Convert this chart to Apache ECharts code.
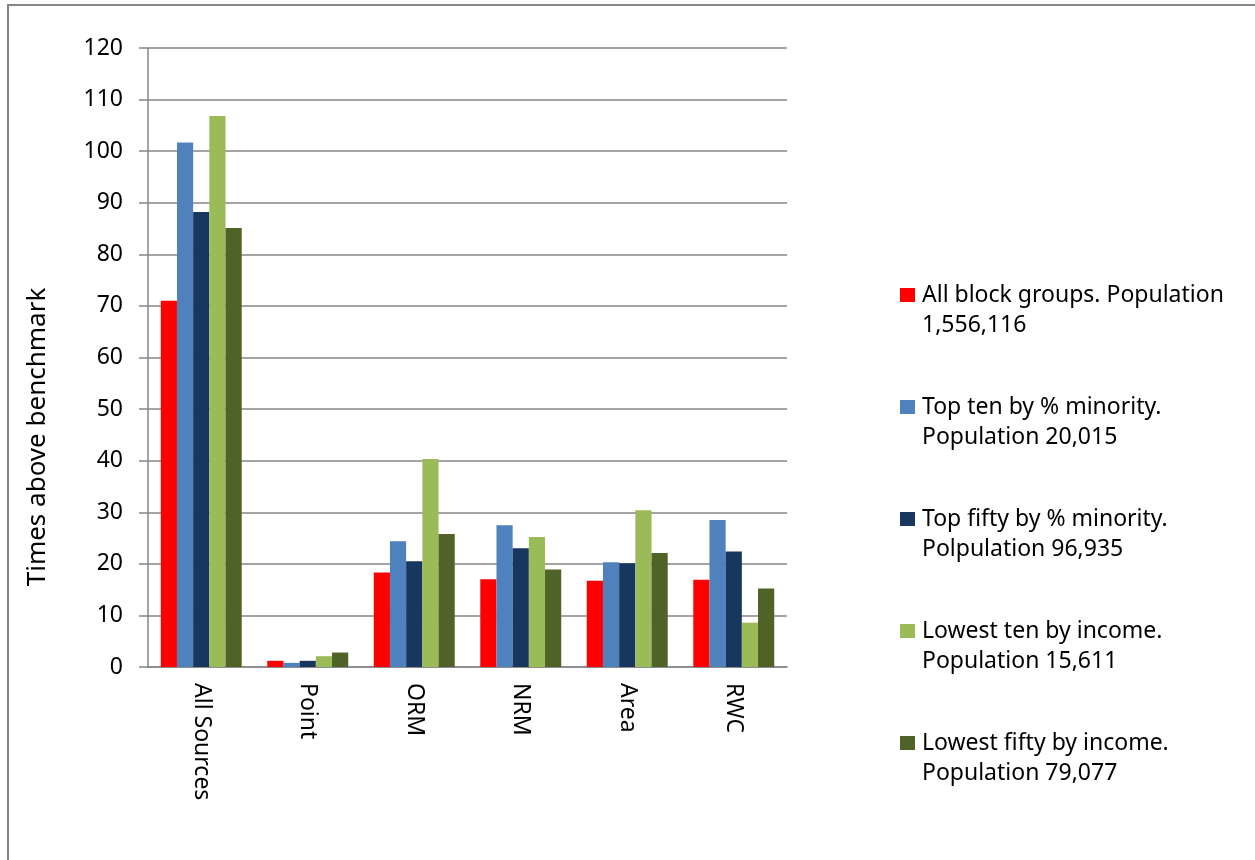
<!DOCTYPE html>
<html>
<head>
<meta charset="utf-8">
<script src="https://cdn.jsdelivr.net/npm/echarts@6/dist/echarts.min.js"></script>
<style>
html,body{margin:0;padding:0;background:#fff;}
#chart{width:1255px;height:860px;}
</style>
</head>
<body>
<div id="chart"></div>
<script>
var categories = ['All Sources', 'Point', 'ORM', 'NRM', 'Area', 'RWC'];
var seriesNames = [
  'All block groups. Population\n1,556,116',
  'Top ten by % minority.\nPopulation 20,015',
  'Top fifty by % minority.\nPolpulation 96,935',
  'Lowest ten by income.\nPopulation 15,611',
  'Lowest fifty by income.\nPopulation 79,077'
];
var allBlockGroups = [71.0, 1.2, 18.3, 17.0, 16.7, 16.9];
var topTenMinority = [101.7, 0.8, 24.4, 27.5, 20.3, 28.5];
var topFiftyMinority = [88.2, 1.2, 20.5, 23.0, 20.1, 22.4];
var lowestTenIncome = [106.8, 2.1, 40.3, 25.2, 30.4, 8.6];
var lowestFiftyIncome = [85.1, 2.8, 25.8, 18.9, 22.1, 15.2];
var yTicks = [0, 10, 20, 30, 40, 50, 60, 70, 80, 90, 100, 110, 120];
var yTitle = 'Times above benchmark';

var colors = ['#FF0000', '#4F81BD', '#17375E', '#9BBB59', '#4F6228'];
var values = [allBlockGroups, topTenMinority, topFiftyMinority, lowestTenIncome, lowestFiftyIncome];
var FONT = 'Noto Sans';

var chart = echarts.init(document.getElementById('chart'));
var series = seriesNames.map(function (n, i) {
  return {
    name: n,
    type: 'bar',
    data: values[i],
    barGap: '0%',
    barCategoryGap: '24%',
    itemStyle: { color: colors[i] }
  };
});

chart.setOption({
  animation: false,
  color: colors,
  textStyle: { fontFamily: FONT },
  graphic: [{
    type: 'rect',
    shape: { x: 8, y: 5, width: 1270, height: 880 },
    style: { fill: 'none', stroke: '#868686', lineWidth: 2 },
    silent: true
  }, {
    type: 'text',
    x: 38,
    y: 437,
    rotation: Math.PI / 2,
    style: {
      text: yTitle,
      fontFamily: FONT,
      fontSize: 26,
      fill: '#000',
      textAlign: 'center',
      textVerticalAlign: 'middle'
    },
    silent: true
  }],
  grid: { left: 148, top: 48, right: 468, bottom: 193, containLabel: false },
  legend: {
    orient: 'vertical',
    left: 900,
    top: 250,
    padding: 0,
    itemWidth: 15,
    itemHeight: 14,
    itemGap: 22,
    icon: 'rect',
    data: seriesNames,
    formatter: function (name) { return '\n' + name; },
    textStyle: { fontFamily: FONT, fontSize: 23, lineHeight: 30, color: '#000', padding: [0, 0, 0, 2] }
  },
  xAxis: {
    type: 'category',
    data: categories,
    axisLine: { lineStyle: { color: '#868686', width: 1.5 } },
    axisTick: { length: 10, lineStyle: { color: '#868686', width: 1.5 } },
    axisLabel: { rotate: -90, margin: 16, fontSize: 23, color: '#000', fontFamily: FONT }
  },
  yAxis: {
    type: 'value',
    min: yTicks[0],
    max: yTicks[yTicks.length - 1],
    interval: 10,
    axisLine: { show: true, lineStyle: { color: '#868686', width: 1.5 } },
    axisTick: { show: true, length: 9, lineStyle: { color: '#868686', width: 1.5 } },
    axisLabel: { margin: 25, fontSize: 23, color: '#000', fontFamily: FONT },
    splitLine: { lineStyle: { color: '#868686', width: 1.5 } }
  },
  series: series
});
</script>
</body>
</html>
